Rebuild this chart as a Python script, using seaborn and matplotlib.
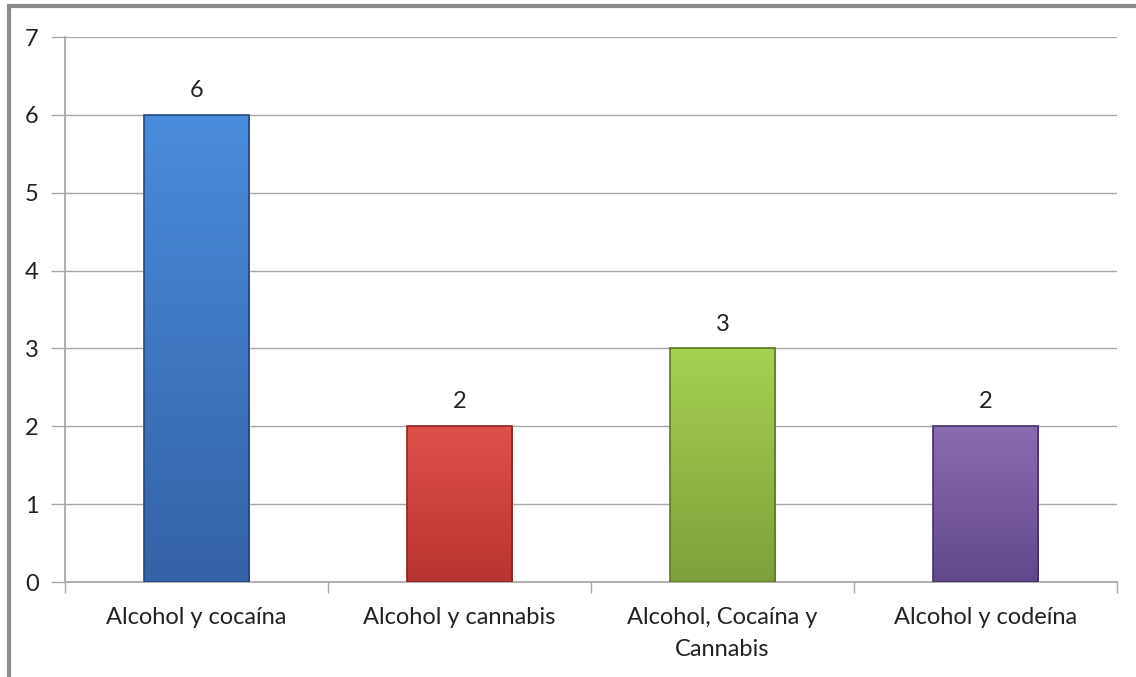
import numpy as np
import pandas as pd
import seaborn as sns
import matplotlib.pyplot as plt
from matplotlib.colors import LinearSegmentedColormap
from matplotlib.patches import Rectangle

sns.set_theme(style="white")
plt.rcParams["font.family"] = ["Lato", "DejaVu Sans"]

# Chart data
categories = ["Alcohol y cocaína", "Alcohol y cannabis", "Alcohol, Cocaína y\nCannabis", "Alcohol y codeína"]
values = [6, 2, 3, 2]
top_colors = ["#4a8cdc", "#e0504a", "#a6d152", "#8a6cb0"]
bottom_colors = ["#3462a6", "#b83430", "#7ea03a", "#62488a"]
edge_colors = ["#24487c", "#8a2420", "#5a7a22", "#46306a"]

df = pd.DataFrame({"category": categories, "value": values})

fig = plt.figure(figsize=(11.36, 6.77), dpi=100)
ax = fig.add_axes([0.0572, 0.1403, 0.9261, 0.805])

sns.barplot(data=df, x="category", y="value", hue="category", palette=top_colors,
            width=0.4, legend=False, ax=ax, zorder=3)

bars = [p for p in ax.patches if isinstance(p, Rectangle) and p.get_height() > 0]
bars.sort(key=lambda p: p.get_x())

# gradient fill clipped to each bar
for patch, c1, c2, ec in zip(bars, top_colors, bottom_colors, edge_colors):
    x0, y0 = patch.get_x(), patch.get_y()
    w, h = patch.get_width(), patch.get_height()
    cmap = LinearSegmentedColormap.from_list("g", [c2, c1])
    grad = np.linspace(0, 1, 256).reshape(-1, 1)
    im = ax.imshow(grad, cmap=cmap, aspect="auto", origin="lower",
                   extent=(x0, x0 + w, y0, y0 + h), zorder=4)
    im.set_clip_path(patch)
    ax.add_patch(Rectangle((x0, y0), w, h, fill=False, edgecolor=ec, linewidth=1.2, zorder=5))

for cont in ax.containers:
    ax.bar_label(cont, fmt="%d", padding=10, fontsize=17, color="#222222")

ax.set_xlim(-0.5, len(categories) - 0.5)
ax.set_ylim(0, 7)
ax.set_yticks(range(0, 8))
ax.set_xlabel("")
ax.set_ylabel("")
ax.grid(axis="y", color="#a6a6a6", linewidth=1, zorder=0)
ax.set_axisbelow(True)

for s in ["top", "right"]:
    ax.spines[s].set_visible(False)
ax.spines["left"].set_color("#a6a6a6")
ax.spines["bottom"].set_color("#a6a6a6")

ax.tick_params(axis="y", left=True, length=10, width=1, color="#a6a6a6", labelsize=17,
               labelcolor="#222222", pad=9)
ax.tick_params(axis="x", which="major", length=0, labelsize=17, labelcolor="#222222", pad=18)
ax.set_xticks(np.arange(-0.5, len(categories), 1), minor=True)
ax.tick_params(axis="x", which="minor", bottom=True, length=8, width=1, color="#a6a6a6")
for lbl in ax.get_xticklabels():
    lbl.set_linespacing(1.65)

# outer chart border (left and top visible)
fig.add_artist(Rectangle((0.0075, -0.05), 1.05, 0.991 + 0.05, transform=fig.transFigure,
                         fill=False, edgecolor="#8c8c8c", linewidth=3))

fig.savefig("out.png", dpi=100)
